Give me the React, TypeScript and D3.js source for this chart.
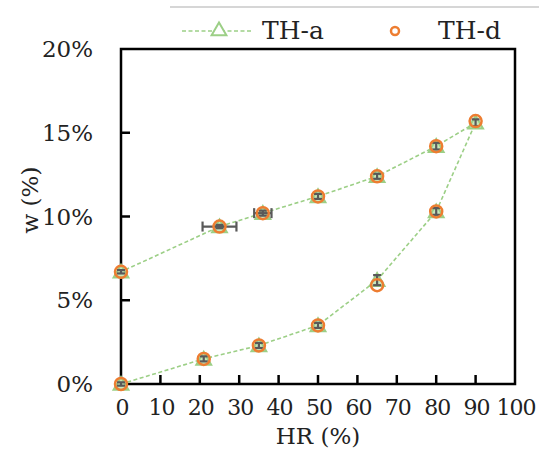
import React, { useRef, useEffect } from "react";
import * as d3 from "d3";

// sorption (lower branch) then desorption (upper branch)
const hr = [0, 21, 35, 50, 65, 80, 90, 80, 65, 50, 36, 25, 0];
const wTHa = [0, 1.5, 2.3, 3.5, 6.2, 10.3, 15.6, 14.2, 12.4, 11.2, 10.2, 9.4, 6.7];
const wTHd = [0, 1.5, 2.3, 3.5, 5.9, 10.3, 15.7, 14.2, 12.4, 11.2, 10.2, 9.4, 6.7];
const hrErr = [0, 0, 0, 0, 0, 0, 0, 0, 0, 0, 2.2, 4.3, 0];
const wErr = [0.1, 0.15, 0.15, 0.15, 0.3, 0.2, 0.2, 0.2, 0.15, 0.15, 0.15, 0.1, 0.1];
const xTicks = [0, 10, 20, 30, 40, 50, 60, 70, 80, 90, 100];
const yTicks = [0, 5, 10, 15, 20];

const App = () => {
  const ref = useRef<SVGSVGElement>(null);

  useEffect(() => {
    const svg = d3.select(ref.current);
    svg.selectAll("*").remove();

    const font = "'DejaVu Serif', serif";
    const green = "#9ccf86";
    const orange = "#ed7d31";
    const gray = "#595959";
    const ink = "#222";

    const x = d3.scaleLinear().domain([0, 100]).range([121, 515]);
    const y = d3.scaleLinear().domain([0, 20]).range([384, 49]);

    // top frame line (legend box edge)
    svg.append("line")
      .attr("x1", 170).attr("x2", 539).attr("y1", 7).attr("y2", 7)
      .attr("stroke", "#c8c8c8").attr("stroke-width", 1.5);

    // plot border
    svg.append("rect")
      .attr("x", x(0)).attr("y", y(20))
      .attr("width", x(100) - x(0)).attr("height", y(0) - y(20))
      .attr("fill", "none").attr("stroke", "#000").attr("stroke-width", 2.5);

    // inward ticks
    svg.selectAll(".xt").data(xTicks.slice(1, -1)).enter().append("line")
      .attr("x1", (d) => x(d)).attr("x2", (d) => x(d))
      .attr("y1", y(0)).attr("y2", y(0) - 9)
      .attr("stroke", "#000").attr("stroke-width", 2.5);
    svg.selectAll(".yt").data(yTicks.slice(1, -1)).enter().append("line")
      .attr("x1", x(0)).attr("x2", x(0) + 9)
      .attr("y1", (d) => y(d)).attr("y2", (d) => y(d))
      .attr("stroke", "#000").attr("stroke-width", 2.5);

    // tick labels
    svg.selectAll(".xl").data(xTicks).enter().append("text")
      .attr("x", (d) => x(d) + 1).attr("y", 415)
      .attr("text-anchor", "middle")
      .style("font-family", font).style("font-size", "22px").attr("fill", ink)
      .style("letter-spacing", "-1px")
      .text((d) => `${d}`);
    svg.selectAll(".yl").data(yTicks).enter().append("text")
      .attr("x", 93).attr("y", (d) => y(d) + 8)
      .attr("text-anchor", "end")
      .style("font-family", font).style("font-size", "23px").attr("fill", ink)
      .text((d) => `${d}%`);

    // axis titles
    svg.append("text")
      .attr("x", 318).attr("y", 444).attr("text-anchor", "middle")
      .style("font-family", font).style("font-size", "23px").attr("fill", ink)
      .text("HR (%)");
    svg.append("text")
      .attr("transform", "translate(38, 200) rotate(-90)")
      .attr("text-anchor", "middle")
      .style("font-family", font).style("font-size", "23px").attr("fill", ink)
      .text("w (%)");

    const idx = d3.range(hr.length);

    // TH-a dashed line
    const line = d3.line<number>().x((i) => x(hr[i])).y((i) => y(wTHa[i]));
    svg.append("path")
      .attr("d", line(idx))
      .attr("fill", "none").attr("stroke", green)
      .attr("stroke-width", 1.6).attr("stroke-dasharray", "4,2.5");

    // TH-a triangles
    const tri = d3.symbol().type(d3.symbolTriangle).size(95);
    svg.selectAll(".ta").data(idx).enter().append("path")
      .attr("d", tri)
      .attr("transform", (i) => `translate(${x(hr[i])},${y(wTHa[i]) + 1.5})`)
      .attr("fill", "#c9e6bc").attr("stroke", green).attr("stroke-width", 2);

    // error bars
    const eb = svg.append("g").attr("stroke", gray).attr("stroke-width", 2.2);
    idx.forEach((i) => {
      const cx = x(hr[i]);
      const cy = y(wTHa[i]);
      const y1 = y(wTHa[i] - wErr[i]);
      const y2 = y(wTHa[i] + wErr[i]);
      eb.append("line").attr("x1", cx).attr("x2", cx).attr("y1", y1).attr("y2", y2);
      eb.append("line").attr("x1", cx - 4).attr("x2", cx + 4).attr("y1", y1).attr("y2", y1);
      eb.append("line").attr("x1", cx - 4).attr("x2", cx + 4).attr("y1", y2).attr("y2", y2);
      if (hrErr[i] > 0) {
        const x1 = x(hr[i] - hrErr[i]);
        const x2 = x(hr[i] + hrErr[i]);
        eb.append("line").attr("x1", x1).attr("x2", x2).attr("y1", cy).attr("y2", cy);
        eb.append("line").attr("x1", x1).attr("x2", x1).attr("y1", cy - 5).attr("y2", cy + 5);
        eb.append("line").attr("x1", x2).attr("x2", x2).attr("y1", cy - 5).attr("y2", cy + 5);
      }
    });

    // TH-d circles
    svg.selectAll(".cd").data(idx).enter().append("circle")
      .attr("cx", (i) => x(hr[i])).attr("cy", (i) => y(wTHd[i]))
      .attr("r", 6)
      .attr("fill", "none").attr("stroke", orange).attr("stroke-width", 2.5);

    // legend
    svg.append("line")
      .attr("x1", 182).attr("x2", 253).attr("y1", 31).attr("y2", 31)
      .attr("stroke", green).attr("stroke-width", 1.6).attr("stroke-dasharray", "4,2.5");
    svg.append("path")
      .attr("d", tri)
      .attr("transform", "translate(219,31)")
      .attr("fill", "#fff").attr("stroke", green).attr("stroke-width", 2);
    svg.append("text")
      .attr("x", 262).attr("y", 39)
      .style("font-family", font).style("font-size", "25px").attr("fill", ink)
      .text("TH-a");
    svg.append("circle")
      .attr("cx", 395).attr("cy", 31).attr("r", 4)
      .attr("fill", "none").attr("stroke", orange).attr("stroke-width", 2.5);
    svg.append("text")
      .attr("x", 438).attr("y", 39)
      .style("font-family", font).style("font-size", "25px").attr("fill", ink)
      .text("TH-d");
  }, []);

  return (
    <svg
      ref={ref}
      width={539}
      height={474}
      style={{ position: "absolute", left: 0, top: 0, background: "#fff" }}
    ></svg>
  );
};

export default App;
